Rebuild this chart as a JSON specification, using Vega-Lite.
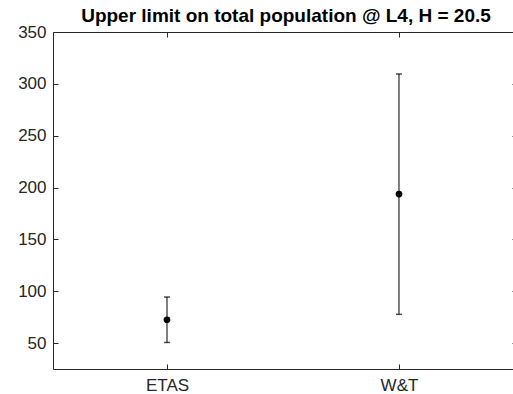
{
  "$schema": "https://vega.github.io/schema/vega-lite/v6.json",
  "autosize": {"type": "none"},
  "padding": {"left": 53, "top": 32, "right": 0, "bottom": 25},
  "width": 460,
  "height": 337,
  "title": {"text": "Upper limit on total population @ L4, H = 20.5", "font": "Liberation Sans", "fontSize": 19, "fontWeight": "bold", "color": "black", "anchor": "middle", "offset": -3, "dx": 3},
  "data": {"values": [
    {"model": "ETAS", "mean": 72.5, "lo": 50.6, "hi": 94.4},
    {"model": "W&T", "mean": 193.7, "lo": 77.7, "hi": 309.5}
  ]},
  "config": {
    "view": {"stroke": "transparent", "strokeWidth": 0},
    "font": "Liberation Sans",
    "axis": {"domain": true, "domainColor": "#262626", "domainWidth": 1, "tickColor": "#262626", "labelColor": "#262626", "labelFont": "Liberation Sans", "labelFontSize": 17, "grid": false, "tickSize": -5, "tickWidth": 1, "title": null},
    "axisRight": {"domain": false}
  },
  "layer": [
    {
      "mark": {"type": "rule", "color": "black", "strokeWidth": 1},
      "encoding": {
        "x": {"field": "model", "type": "nominal", "sort": null, "scale": {"type": "point", "padding": 0.4914}, "axis": {"orient": "bottom", "labelAngle": 0, "labelPadding": 13}},
        "y": {"field": "lo", "type": "quantitative", "scale": {"domain": [25, 350], "nice": false, "zero": false}, "axis": {"orient": "left", "values": [50, 100, 150, 200, 250, 300, 350], "labelPadding": 12}},
        "y2": {"field": "hi"}
      }
    },
    {
      "mark": {"type": "tick", "orient": "horizontal", "size": 6, "thickness": 1.5, "color": "black"},
      "encoding": {
        "x": {"field": "model", "type": "nominal", "sort": null, "axis": null},
        "y": {"field": "lo", "type": "quantitative", "axis": null}
      }
    },
    {
      "mark": {"type": "tick", "orient": "horizontal", "size": 6, "thickness": 1.5, "color": "black"},
      "encoding": {
        "x": {"field": "model", "type": "nominal", "sort": null, "axis": null},
        "y": {"field": "hi", "type": "quantitative", "axis": null}
      }
    },
    {
      "mark": {"type": "point", "filled": true, "color": "black", "opacity": 1, "size": 45},
      "encoding": {
        "x": {"field": "model", "type": "nominal", "sort": null, "axis": {"orient": "top", "labels": false}},
        "y": {"field": "mean", "type": "quantitative", "axis": {"orient": "right", "labels": false, "domain": false, "tickSize": -1, "values": [50, 100, 150, 200, 250, 300, 350]}}
      }
    }
  ],
  "resolve": {"axis": {"x": "independent", "y": "independent"}}
}
